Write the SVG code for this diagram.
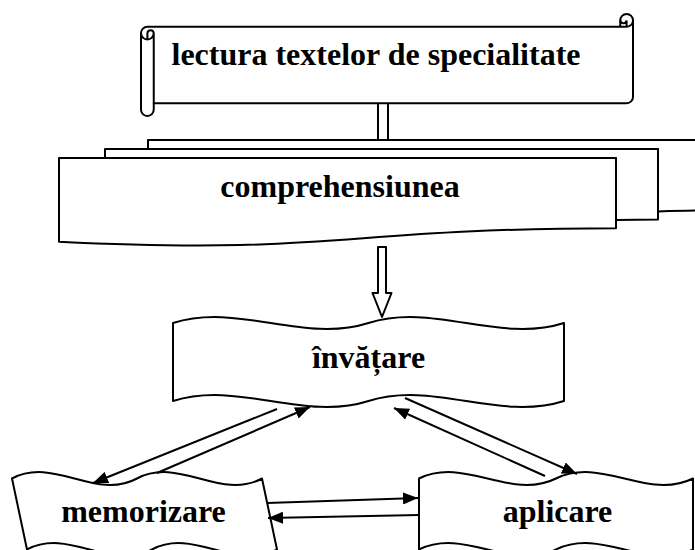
<svg xmlns="http://www.w3.org/2000/svg" width="695" height="550" viewBox="0 0 695 550">
  <style>
    .shape { fill: #ffffff; stroke: #000000; stroke-width: 2; stroke-linejoin: round; }
    .line { fill: none; stroke: #000000; stroke-width: 2; }
    .conn { fill: none; stroke: #000000; stroke-width: 2; marker-end: url(#head); }
    .label { font-family: "Liberation Serif", "Times New Roman", serif; font-weight: bold; font-size: 32px; fill: #000000; text-anchor: middle; }
  </style>
  <defs>
    <marker id="head" markerUnits="userSpaceOnUse" markerWidth="16" markerHeight="12" refX="15" refY="6" orient="auto">
      <path d="M0,0 L15,6 L0,12 Z" fill="#000000"/>
    </marker>
  </defs>

  <rect width="695" height="550" fill="#ffffff"/>

  <!-- block arrow joining the scroll to the stacked pages (mostly hidden) -->
  <g id="link-top">
    <rect class="shape" x="378" y="100" width="10" height="45"/>
  </g>

  <!-- horizontal scroll -->
  <g id="node-lectura">
    <path class="shape" d="M141,33.1 A6.375,6.375 0 0 1 147.4,26.75 L620.25,26.75 L620.25,20.4 A6.375,6.375 0 0 1 633,20.4 L633,96.9 A6.375,6.375 0 0 1 626.6,103.25 L153.75,103.25 L153.75,109.6 A6.375,6.375 0 0 1 141,109.6 Z"/>
    <path class="line" d="M620.25,26.75 L626.6,26.75 A6.375,6.375 0 0 0 633,20.4 M626.6,26.75 L626.6,20.4 A3.19,3.19 0 0 1 620.25,20.4"/>
    <path class="line" d="M147.4,39.5 L147.4,33.1 A3.19,3.19 0 0 1 153.75,33.1 A6.375,6.375 0 0 1 141,33.1 M153.75,33.1 L153.75,103.25"/>
    <text class="label" x="376" y="65">lectura textelor de specialitate</text>
  </g>

  <!-- stacked documents -->
  <g id="node-comprehensiunea">
    <path class="shape" d="M148,149 L148,140 L706,140 L706,210.5 C690,210.5 658,211.5 658,211.5 L658,149 Z"/>
    <path class="shape" d="M105,158 L105,149 L658,149 L658,219.6 C637,219.6 616,220.1 616,220.1 L616,158 Z"/>
    <path class="shape" d="M59,158 L616,158 L616,228.3 C337.5,228.3 337.5,255.3 59,241.8 Z"/>
    <text class="label" x="340" y="197">comprehensiunea</text>
  </g>

  <!-- down block arrow -->
  <g id="link-down">
    <path class="shape" d="M378,247 L386,247 L386,293 L391.5,293 L382,317 L372.5,293 L378,293 Z"/>
  </g>

  <g id="node-invatare">
    <path class="shape" d="M173,323 C238.2,302.2 303.3,343.8 368.5,323 C433.7,302.2 498.8,343.8 564,323 L564,401 C498.8,421.8 433.7,380.2 368.5,401 C303.3,421.8 238.2,380.2 173,401 Z"/>
    <text class="label" x="368.5" y="368">învățare</text>
  </g>

  <g id="node-memorizare">
    <path class="shape" d="M12,478.5 C53.7,456 95.3,501 137,478.5 C178.7,456 220.3,501 262,478.5 L277,549.5 C235.3,572 193.7,527 152,549.5 C110.3,572 68.7,527 27,549.5 Z"/>
    <text class="label" x="143.5" y="522">memorizare</text>
  </g>

  <g id="node-aplicare">
    <path class="shape" d="M419,478.5 C464.7,456 510.3,501 556,478.5 C601.7,456 647.3,501 693,478.5 L693,549.5 C647.3,572 601.7,527 556,549.5 C510.3,572 464.7,527 419,549.5 Z"/>
    <text class="label" x="557.5" y="522">aplicare</text>
  </g>

  <g id="connectors">
    <line class="conn" x1="277" y1="409" x2="93" y2="483"/>
    <line class="conn" x1="157" y1="473" x2="310" y2="407"/>
    <line class="conn" x1="545" y1="476" x2="394" y2="408"/>
    <line class="conn" x1="405" y1="398" x2="577" y2="474"/>
    <line class="conn" x1="267" y1="503" x2="418" y2="498"/>
    <line class="conn" x1="419" y1="515" x2="268" y2="518"/>
  </g>
</svg>
